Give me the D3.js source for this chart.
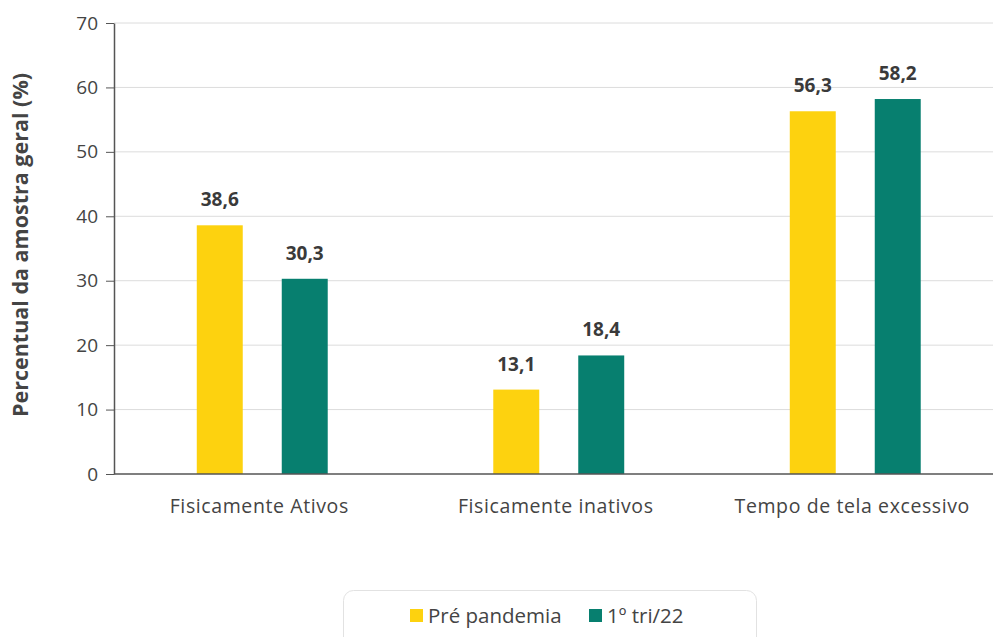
<!DOCTYPE html>
<html>
<head>
<meta charset="utf-8">
<script src="https://cdn.jsdelivr.net/npm/d3@7"></script>
<style>
  body { margin: 0; background: #fff; }
  svg { display: block; font-family: "Open Sans", sans-serif; }
</style>
</head>
<body>
<svg id="chart" width="993" height="637"></svg>
<script>
var categories = ["Fisicamente Ativos", "Fisicamente inativos", "Tempo de tela excessivo"];
var seriesNames = ["Pré pandemia", "1º tri/22"];
var preValues = [38.6, 13.1, 56.3];
var triValues = [30.3, 18.4, 58.2];
var yTicks = [0, 10, 20, 30, 40, 50, 60, 70];
var colors = ["#fdd20f", "#077f6f"];

var svg = d3.select("#chart");
var width = 993, height = 637;
var plotLeft = 114, plotRight = 1003.5, plotTop = 23, plotBottom = 474;

var x0 = d3.scaleBand().domain(categories).range([plotLeft, plotRight]);
var x1 = d3.scaleBand().domain(seriesNames).range([0, x0.bandwidth()])
  .paddingInner(0.459).paddingOuter(0.974);
var y = d3.scaleLinear().domain([0, 70]).range([plotBottom, plotTop]);

// gridlines
svg.append("g")
  .selectAll("line")
  .data(yTicks.filter(d => d > 0))
  .enter()
  .append("line")
  .attr("x1", plotLeft)
  .attr("x2", width)
  .attr("y1", d => y(d))
  .attr("y2", d => y(d))
  .attr("stroke", "#dcdcdc")
  .attr("stroke-width", 1);

// y axis
var yAxis = svg.append("g")
  .attr("transform", `translate(${plotLeft},0)`)
  .call(d3.axisLeft(y).tickValues(yTicks).tickSize(8).tickPadding(8).tickSizeOuter(0));
yAxis.select(".domain").attr("stroke", "#555").attr("stroke-width", 1.5);
yAxis.selectAll(".tick line").attr("stroke", "#555");
yAxis.selectAll(".tick text")
  .attr("fill", "#444")
  .style("font-size", "19px")
  .style("font-family", "Open Sans, sans-serif");

// bars
var rows = categories.map((c, i) => ({ cat: c, values: [preValues[i], triValues[i]] }));

var groups = svg.append("g")
  .selectAll("g")
  .data(rows)
  .enter()
  .append("g")
  .attr("transform", d => `translate(${x0(d.cat)},0)`);

groups.selectAll("rect")
  .data(d => d.values.map((v, j) => ({ key: seriesNames[j], value: v, idx: j })))
  .enter()
  .append("rect")
  .attr("x", d => x1(d.key))
  .attr("width", x1.bandwidth())
  .attr("y", d => y(d.value))
  .attr("height", d => plotBottom - y(d.value))
  .attr("fill", d => colors[d.idx]);

groups.selectAll("text")
  .data(d => d.values.map((v, j) => ({ key: seriesNames[j], value: v })))
  .enter()
  .append("text")
  .attr("x", d => x1(d.key) + x1.bandwidth() / 2)
  .attr("y", d => y(d.value) - 19)
  .attr("text-anchor", "middle")
  .attr("fill", "#3a3a3a")
  .style("font-size", "19px")
  .style("font-weight", "bold")
  .text(d => d.value.toFixed(1).replace(".", ","));

// x axis line
svg.append("line")
  .attr("x1", plotLeft)
  .attr("x2", width)
  .attr("y1", plotBottom)
  .attr("y2", plotBottom)
  .attr("stroke", "#555")
  .attr("stroke-width", 1.5);

// category labels
svg.append("g")
  .selectAll("text")
  .data(categories)
  .enter()
  .append("text")
  .attr("x", d => x0(d) + x0.bandwidth() / 2 - 3)
  .attr("y", 513)
  .attr("text-anchor", "middle")
  .attr("fill", "#444")
  .style("font-size", "19.5px")
  .style("letter-spacing", "0.6px")
  .text(d => d);

// y axis title
svg.append("text")
  .attr("transform", "translate(28,245) rotate(-90)")
  .attr("text-anchor", "middle")
  .attr("fill", "#444")
  .style("font-size", "21.5px")
  .style("font-weight", "bold")
  .text("Percentual da amostra geral (%)");

// legend
var legend = svg.append("g");
legend.append("rect")
  .attr("x", 343.5)
  .attr("y", 590.5)
  .attr("width", 413)
  .attr("height", 60)
  .attr("rx", 10)
  .attr("fill", "#fff")
  .attr("stroke", "#e2e2e2");

var legendX = [410, 589];
seriesNames.forEach((s, i) => {
  legend.append("rect")
    .attr("x", legendX[i])
    .attr("y", 609)
    .attr("width", 13)
    .attr("height", 13)
    .attr("fill", colors[i]);
  legend.append("text")
    .attr("x", legendX[i] + 18)
    .attr("y", 623)
    .attr("fill", "#444")
    .style("font-size", "20.5px")
    .text(s);
});
</script>
</body>
</html>
